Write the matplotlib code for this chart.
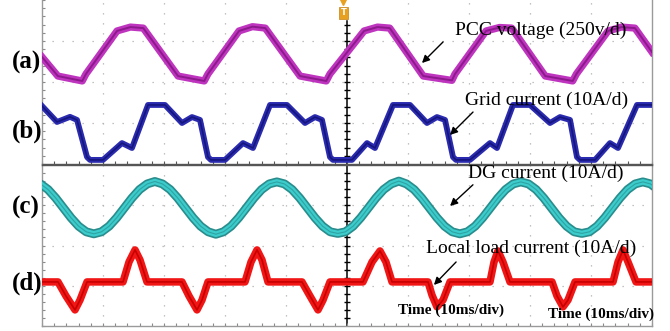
import matplotlib.pyplot as plt
import numpy as np

plt.rcParams['font.family'] = ['Liberation Serif', 'DejaVu Serif']

# time in ms (10 ms/div), amplitude in screen divisions of each panel (0..8)
# (a) PCC voltage
pcc_t = [0, 2.6, 6.6, 7.2,
         12.3, 14.5, 16.6, 22.3, 26.6, 27.2,
         32.3, 34.5, 36.6, 42.3, 46.6, 47.2,
         52.8, 55.0, 57.0, 62.5, 67.2, 67.7,
         72.8, 75.0, 77.0, 82.5, 87.0, 87.6,
         92.8, 95.0, 97.2, 100]
pcc_v = [5.22, 4.29, 4.05, 4.39,
         6.49, 6.68, 6.63, 4.29, 4.05, 4.39,
         6.49, 6.70, 6.63, 4.29, 4.05, 4.39,
         6.49, 6.68, 6.63, 4.29, 4.08, 4.39,
         6.49, 6.66, 6.63, 4.29, 4.05, 4.39,
         6.49, 6.68, 6.63, 5.46]

# (b) grid current
grid_t = [0, 2.46, 4.59, 5.74, 7.38, 7.87, 10.0, 13.11, 14.75,
          17.38, 20.16, 22.95, 24.59, 25.90, 27.21, 27.70, 30.0, 32.95, 34.59,
          37.38, 40.16, 43.11, 44.75, 45.90, 47.21, 47.70, 50.82, 53.28, 54.59,
          57.54, 60.33, 63.11, 64.75, 66.07, 67.38, 67.87, 70.16, 73.44, 74.59,
          77.21, 80.0, 83.28, 84.92, 86.56, 87.70, 88.20, 90.66, 93.11, 94.43,
          97.54, 100]
grid_v = [2.83, 2.05, 2.30, 2.15, 0.34, 0.20, 0.20, 1.02, 0.78,
          2.88, 2.88, 2.00, 2.29, 2.15, 0.34, 0.20, 0.20, 1.02, 0.78,
          2.88, 2.88, 2.00, 2.29, 2.15, 0.34, 0.20, 0.20, 1.02, 0.78,
          2.88, 2.88, 2.00, 2.29, 2.15, 0.34, 0.20, 0.20, 1.02, 0.78,
          2.88, 2.88, 2.00, 2.29, 2.15, 0.34, 0.20, 0.20, 1.02, 0.78,
          2.88, 2.88]

# (c) DG current
dg_t = [-1.5, -0.25, 1.0, 2.25, 3.5, 4.75, 6.0, 7.25, 8.5, 9.75, 11.0, 12.25,
        13.5, 14.75, 16.0, 17.25, 18.5, 19.75, 21.0, 22.25,
        23.5, 24.75, 26.0, 27.25, 28.5, 29.75, 31.0, 32.25,
        33.5, 34.75, 36.0, 37.25, 38.5, 39.75, 41.0, 42.25,
        43.5, 44.75, 46.0, 47.25, 48.5, 49.75, 51.0, 52.25,
        53.5, 54.75, 56.0, 57.25, 58.5, 59.75, 61.0, 62.25,
        63.5, 64.75, 66.0, 67.25, 68.5, 69.75, 71.0, 72.25,
        73.5, 74.75, 76.0, 77.25, 78.5, 79.75, 81.0, 82.25,
        83.5, 84.75, 86.0, 87.25, 88.5, 89.75, 91.0, 92.25,
        93.5, 94.75, 96.0, 97.25, 98.5, 99.75, 101.0]
dg_v = [7.16, 7.06, 6.78, 6.36, 5.87, 5.38, 4.96, 4.68, 4.58, 4.68, 4.96, 5.38,
        5.87, 6.36, 6.78, 7.06, 7.18, 7.06, 6.78, 6.36,
        5.87, 5.38, 4.96, 4.68, 4.56, 4.68, 4.96, 5.38,
        5.87, 6.36, 6.78, 7.06, 7.16, 7.06, 6.78, 6.36,
        5.87, 5.38, 4.96, 4.68, 4.60, 4.68, 4.96, 5.38,
        5.87, 6.36, 6.78, 7.06, 7.20, 7.06, 6.78, 6.36,
        5.87, 5.38, 4.96, 4.68, 4.58, 4.68, 4.96, 5.38,
        5.87, 6.36, 6.78, 7.06, 7.16, 7.06, 6.78, 6.36,
        5.87, 5.38, 4.96, 4.68, 4.60, 4.68, 4.96, 5.38,
        5.87, 6.36, 6.78, 7.06, 7.16, 7.06, 6.78]

# (d) local load current
load_t = [0,
          2.62, 3.93, 5.41, 6.23, 7.38,
          13.28, 14.26, 15.25, 16.07, 17.21,
          22.95, 24.10, 25.41, 26.23, 27.21,
          33.28, 34.26, 35.25, 36.07, 37.05,
          42.62, 43.93, 45.25, 46.07, 47.21,
          52.62, 54.10, 55.41, 56.39, 57.38,
          63.28, 63.93, 64.75, 65.74, 66.89,
          73.44, 74.10, 74.75, 75.57, 76.72,
          83.61, 84.43, 85.41, 86.23, 87.38,
          93.61, 94.43, 95.25, 96.07, 97.38,
          100]
load_v = [2.19,
          2.19, 1.49, 0.80, 1.29, 2.19,
          2.19, 3.18, 3.78, 3.28, 2.19,
          2.19, 1.49, 0.80, 1.29, 2.19,
          2.19, 3.18, 3.78, 3.28, 2.19,
          2.19, 1.49, 0.80, 1.29, 2.19,
          2.19, 3.18, 3.73, 3.18, 2.19,
          2.19, 1.54, 0.95, 1.29, 2.19,
          2.19, 3.18, 3.73, 3.18, 2.19,
          2.19, 1.49, 0.95, 1.29, 2.19,
          2.19, 3.18, 3.78, 3.18, 2.19,
          2.19]

fig = plt.figure(figsize=(6.7, 3.31), dpi=100)
ax1 = fig.add_axes([42/670, 167/331, 610/670, 164/331])
ax2 = fig.add_axes([42/670, 5/331, 610/670, 161/331])

for ax in (ax1, ax2):
    ax.set_xlim(0, 100)
    ax.set_ylim(0, 8)
    for s in ax.spines.values():
        s.set_color('#9a9a9a')
        s.set_linewidth(1.0)
    ax.set_xticks(np.arange(0, 101, 2))
    ax.set_yticks(np.arange(0, 8.01, 0.4))
    ax.tick_params(direction='in', length=2.5, color='#8a8a8a',
                   labelbottom=False, labelleft=False, top=False, right=False)
    # dotted graticule
    for x in [10, 20, 30, 40, 60, 70, 80, 90]:
        ax.axvline(x, color='#b0b0b0', lw=0.9, ls=(0, (1, 7)), zorder=0)
    for y in [2, 4, 6]:
        ax.axhline(y, color='#b0b0b0', lw=0.9, ls=(0, (1, 7)), zorder=0)

ax1.spines['top'].set_visible(False)
ax1.spines['bottom'].set_color('#555555')
ax2.spines['top'].set_color('#555555')
ax1.tick_params(axis='x', direction='inout', length=4, color='#555555')

# centre line with small ticks
ax1.plot([50, 50], [0, 7.0], color='black', lw=1.1, zorder=1)
ax2.axvline(50, color='black', lw=1.1, zorder=1)
ticks = np.arange(0.4, 7.0, 0.4)
ax1.plot([50]*len(ticks), ticks, ls='none', marker='_', ms=4, color='black', zorder=1)
ticks2 = np.arange(0.4, 8.0, 0.4)
ax2.plot([50]*len(ticks2), ticks2, ls='none', marker='_', ms=4, color='black', zorder=1)

# trigger marker
ax1.text(49.4, 7.37, 'T', fontsize=6, fontweight='bold', color='white',
         ha='center', va='center', family='DejaVu Sans',
         bbox=dict(boxstyle='square,pad=0.15', fc='#e8a020', ec='#c88010', lw=0.5), zorder=5)
ax1.plot([49.4], [7.92], marker='v', ms=4, color='#e8a020', clip_on=False, zorder=5)

# traces (wide band + darker core to mimic the noisy scope trace)
ax1.plot(pcc_t, pcc_v, color='#be34be', lw=5.2, solid_joinstyle='round', zorder=3)
ax1.plot(pcc_t, pcc_v, color='#8c1a8c', lw=1.4, zorder=3)
ax1.plot(grid_t, grid_v, color='#2a2aae', lw=4.2, solid_joinstyle='round', zorder=3)
ax1.plot(grid_t, grid_v, color='#15157e', lw=1.2, zorder=3)
ax2.plot(dg_t, dg_v, color='#2a8c8c', lw=6.4, solid_joinstyle='round', zorder=3)
ax2.plot(dg_t, dg_v, color='#3ccccc', lw=4.0, solid_joinstyle='round', zorder=3)
ax2.plot(dg_t, dg_v, color='#2fa3a3', lw=0.8, zorder=3)
ax2.plot(load_t, load_v, color='#f01616', lw=5.4, solid_joinstyle='round', zorder=3)
ax2.plot(load_t, load_v, color='#c80000', lw=1.2, zorder=3)

# annotations
arrow = dict(arrowstyle='-|>', color='black', lw=1.0, mutation_scale=11)
ax1.text(81.8, 6.54, 'PCC voltage (250v/d)', fontsize=14, ha='center', va='center', zorder=6)
ax1.annotate('', xy=(61.97, 4.83), xytext=(66.07, 6.05), arrowprops=arrow, zorder=6)
ax1.text(82.7, 3.12, 'Grid current (10A/d)', fontsize=14, ha='center', va='center', zorder=6)
ax1.annotate('', xy=(66.56, 1.32), xytext=(70.98, 2.63), arrowprops=arrow, zorder=6)
ax2.text(82.6, 7.61, 'DG current (10A/d)', fontsize=14, ha='center', va='center', zorder=6)
ax2.annotate('', xy=(66.56, 5.87), xytext=(70.98, 7.11), arrowprops=arrow, zorder=6)
ax2.text(80.2, 3.88, 'Local load current (10A/d)', fontsize=14, ha='center', va='center', zorder=6)
ax2.annotate('', xy=(63.93, 1.94), xytext=(68.2, 3.28), arrowprops=arrow, zorder=6)
ax2.text(66.97, 0.80, 'Time (10ms/div)', fontsize=11, fontweight='bold', ha='center', va='center', zorder=6)
ax2.text(91.56, 0.60, 'Time (10ms/div)', fontsize=11, fontweight='bold', ha='center', va='center', zorder=6)

# panel labels
for lab, ypx in [('(a)', 62), ('(b)', 131), ('(c)', 207), ('(d)', 283)]:
    fig.text(12/670, 1 - ypx/331, lab, fontsize=18, fontweight='bold', ha='left', va='center')

plt.savefig('out.png', dpi=100)
